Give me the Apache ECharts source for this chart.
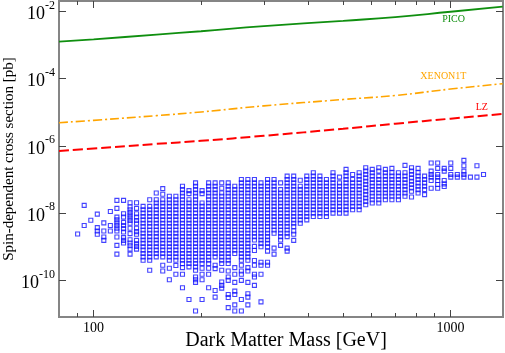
<!DOCTYPE html>
<html>
<head>
<meta charset="utf-8">
<script src="https://cdn.jsdelivr.net/npm/echarts@6/dist/echarts.min.js"></script>
<style>
  html, body { margin: 0; padding: 0; background: #fff; }
  #main { width: 505px; height: 353px; }
</style>
</head>
<body>
<div id="main"></div>
<script>
// limit curves: mass [GeV] and log10(sigma / pb)
var limitMass = [80, 100, 150, 200, 300, 500, 700, 1000, 1400];
var picoExp  = [-2.90, -2.83, -2.69, -2.59, -2.44, -2.28, -2.17, -2.01, -1.86];
var xenonExp = [-5.31, -5.24, -5.10, -4.99, -4.81, -4.62, -4.50, -4.31, -4.15];
var lzExp    = [-6.15, -6.08, -5.94, -5.85, -5.70, -5.49, -5.34, -5.19, -5.05];

// scan points: one mass per column, list of log10(sigma / pb) in that column
var scanMass = [90.2, 94.1, 98.2, 102.4, 106.8, 111.4, 116.2, 121.3, 126.5, 131.9,
  137.6, 143.6, 149.8, 156.2, 163.0, 170.0, 177.4, 185.0, 193.0, 201.3,
  210.0, 219.0, 228.5, 238.3, 248.6, 259.4, 270.5, 282.2, 294.4, 307.1,
  320.3, 334.1, 348.5, 363.6, 379.3, 395.6, 412.6, 430.5, 449.0, 468.5,
  488.6, 509.6, 531.7, 554.6, 578.6, 603.5, 629.5, 656.8, 685.0, 714.5,
  745.4, 777.4, 811.1, 845.9, 882.5, 920.4, 960.1, 1001.6, 1044.7, 1090.0,
  1136.9, 1185.8, 1237.2];
var scanExp = [
  [-8.62],
  [-7.77, -8.37],
  [-8.21],
  [-8.03, -8.43, -8.53, -8.63],
  [-8.29, -8.53, -8.71, -8.81],
  [-7.95, -8.37, -8.53],
  [-7.62, -7.86, -8.12, -8.2, -8.29, -8.37, -8.45, -8.53, -8.71, -8.96, -9.22],
  [-7.62, -8.02, -8.12, -8.28, -8.37, -8.46, -8.56, -8.73, -8.81, -8.89],
  [-7.69, -7.82, -7.9, -7.98, -8.06, -8.14, -8.22, -8.3, -8.45, -8.61, -8.79, -8.89, -8.97, -9.07, -9.22],
  [-7.69, -7.86, -8.02, -8.12, -8.22, -8.3, -8.45, -8.55, -8.63, -8.81, -8.91, -8.99, -9.07],
  [-7.8, -7.9, -8, -8.1, -8.2, -8.3, -8.4, -8.5, -8.6, -8.7, -8.8, -8.9, -9, -9.1, -9.2, -9.3, -9.4],
  [-7.6, -7.8, -7.9, -8, -8.1, -8.2, -8.3, -8.4, -8.5, -8.6, -8.7, -8.8, -8.9, -9, -9.1, -9.2, -9.3, -9.4, -9.7],
  [-7.4, -7.6, -7.7, -7.8, -7.9, -8, -8.1, -8.2, -8.3, -8.4, -8.5, -8.6, -8.7, -8.8, -8.9, -9, -9.1, -9.2, -9.3],
  [-7.27, -7.44, -7.6, -7.7, -7.8, -7.9, -8, -8.1, -8.2, -8.3, -8.4, -8.5, -8.6, -8.7, -8.8, -8.9, -9, -9.1, -9.2, -9.3, -9.55, -9.72],
  [-7.5, -7.6, -7.7, -7.8, -7.9, -8, -8.1, -8.2, -8.3, -8.4, -8.5, -8.6, -8.7, -8.8, -8.9, -9, -9.1, -9.2, -9.3, -9.4, -9.64, -9.98],
  [-7.5, -7.6, -7.7, -7.8, -7.9, -8, -8.1, -8.2, -8.3, -8.4, -8.5, -8.6, -8.7, -8.8, -8.9, -9, -9.1, -9.2, -9.3, -9.4, -9.56, -9.82],
  [-7.2, -7.3, -7.4, -7.5, -7.6, -7.7, -7.8, -7.9, -8, -8.1, -8.2, -8.3, -8.4, -8.5, -8.6, -8.7, -8.8, -8.9, -9, -9.1, -9.2, -9.3, -9.4, -9.5, -9.62, -9.82, -10.22],
  [-7.33, -7.42, -7.6, -7.7, -7.8, -7.9, -8, -8.1, -8.2, -8.3, -8.4, -8.5, -8.6, -8.7, -8.8, -8.9, -9, -9.1, -9.2, -9.3, -9.4, -9.5, -9.6, -10.57],
  [-7.1, -7.2, -7.3, -7.4, -7.5, -7.6, -7.7, -7.8, -7.9, -8, -8.1, -8.2, -8.3, -8.4, -8.5, -8.6, -8.7, -8.8, -8.9, -9, -9.1, -9.2, -9.3, -9.4, -9.5, -9.6, -9.7, -9.9, -9.98, -10.06, -10.91],
  [-7.33, -7.42, -7.7, -7.8, -7.9, -8, -8.1, -8.2, -8.3, -8.4, -8.5, -8.6, -8.7, -8.8, -8.9, -9, -9.1, -9.2, -9.3, -9.4, -9.5, -9.64, -9.82, -9.98, -10.57],
  [-7.1, -7.2, -7.3, -7.4, -7.5, -7.6, -7.7, -7.8, -7.9, -8, -8.1, -8.2, -8.3, -8.4, -8.5, -8.6, -8.7, -8.8, -8.9, -9, -9.1, -9.2, -9.3, -9.4, -9.5, -9.64, -9.82, -10.22],
  [-7.1, -7.2, -7.3, -7.4, -7.5, -7.6, -7.7, -7.8, -7.9, -8, -8.1, -8.2, -8.3, -8.4, -8.5, -8.6, -8.7, -8.8, -8.9, -9, -9.1, -9.2, -9.3, -9.55, -9.65, -10.3, -10.5],
  [-7.1, -7.26, -7.4, -7.5, -7.6, -7.7, -7.8, -7.9, -8, -8.1, -8.2, -8.3, -8.4, -8.5, -8.6, -8.7, -8.8, -8.9, -9, -9.1, -9.2, -9.3, -9.4, -9.5, -9.7, -10.05, -10.15, -10.23],
  [-7.1, -7.2, -7.3, -7.4, -7.5, -7.6, -7.7, -7.8, -7.9, -8, -8.1, -8.2, -8.3, -8.4, -8.5, -8.6, -8.7, -8.8, -8.9, -9, -9.1, -9.2, -9.3, -9.4, -9.5, -9.72, -9.9, -10, -10.42, -10.51, -10.81],
  [-7.2, -7.3, -7.4, -7.5, -7.6, -7.7, -7.8, -7.9, -8, -8.1, -8.2, -8.3, -8.4, -8.5, -8.6, -8.7, -8.8, -8.9, -9, -9.1, -9.2, -9.62, -9.82, -10.06, -10.32, -10.42, -10.73, -10.91],
  [-7, -7.1, -7.2, -7.3, -7.4, -7.5, -7.6, -7.7, -7.8, -7.9, -8, -8.1, -8.2, -8.3, -8.4, -8.5, -8.6, -8.7, -8.8, -8.9, -9, -9.1, -9.2, -9.3, -9.4, -9.55, -9.72, -9.82, -10, -10.57, -10.91],
  [-7, -7.1, -7.2, -7.3, -7.4, -7.5, -7.6, -7.7, -7.8, -7.9, -8, -8.1, -8.2, -8.3, -8.4, -8.5, -8.6, -8.7, -8.8, -8.9, -9, -9.1, -9.2, -9.3, -9.4, -9.62, -9.72, -10.06, -10.4, -10.5, -10.73],
  [-7, -7.1, -7.2, -7.3, -7.4, -7.5, -7.6, -7.7, -7.8, -7.9, -8, -8.1, -8.2, -8.3, -8.4, -8.5, -8.6, -8.7, -8.8, -8.99, -9.11, -9.41, -9.55, -9.82, -9.9, -10.15],
  [-7.1, -7.2, -7.3, -7.4, -7.5, -7.6, -7.7, -7.8, -7.9, -8, -8.1, -8.2, -8.3, -8.4, -8.5, -8.6, -8.7, -8.8, -8.9, -9, -9.46, -9.55, -9.82, -10.64],
  [-7, -7.1, -7.2, -7.3, -7.4, -7.5, -7.6, -7.7, -7.8, -7.9, -8, -8.1, -8.2, -8.3, -8.4, -8.5, -8.6, -8.7, -8.8, -8.9, -9, -9.13, -9.46, -9.55],
  [-7, -7.1, -7.2, -7.3, -7.4, -7.5, -7.6, -7.7, -7.8, -7.9, -8, -8.1, -8.2, -8.3, -8.4, -8.5, -8.6, -9.04, -9.22],
  [-7.1, -7.3, -7.4, -7.5, -7.6, -7.7, -7.8, -7.9, -8, -8.1, -8.2, -8.3, -8.4, -8.5, -8.6, -8.7, -8.8, -8.96],
  [-6.9, -7, -7.1, -7.2, -7.3, -7.4, -7.5, -7.6, -7.7, -7.8, -7.9, -8, -8.1, -8.2, -8.3, -8.4, -8.5, -8.6, -8.7, -9.04, -9.13],
  [-6.9, -7, -7.1, -7.2, -7.3, -7.4, -7.5, -7.6, -7.7, -7.8, -7.9, -8, -8.1, -8.2, -8.3, -8.4, -8.53, -8.63, -8.81],
  [-7.02, -7.2, -7.3, -7.4, -7.5, -7.6, -7.7, -7.8, -7.9, -8, -8.1, -8.2, -8.3],
  [-6.9, -7, -7.1, -7.2, -7.3, -7.4, -7.5, -7.6, -7.7, -7.8, -7.9, -8, -8.1, -8.2],
  [-6.8, -6.9, -7, -7.1, -7.2, -7.3, -7.4, -7.5, -7.6, -7.7, -7.8, -7.9, -8, -8.1],
  [-6.9, -7, -7.1, -7.2, -7.3, -7.4, -7.5, -7.6, -7.7, -7.8, -7.9, -8, -8.1],
  [-7, -7.1, -7.2, -7.3, -7.4, -7.5, -7.6, -7.7, -7.8, -7.9, -8, -8.1],
  [-6.8, -6.9, -7, -7.1, -7.2, -7.3, -7.4, -7.5, -7.6, -7.7, -7.8, -7.9, -8],
  [-6.93, -7.1, -7.2, -7.3, -7.4, -7.5, -7.6, -7.7, -7.8, -7.9, -8],
  [-6.7, -6.8, -6.9, -7, -7.1, -7.2, -7.3, -7.4, -7.5, -7.6, -7.7, -7.8, -7.9, -8],
  [-6.85, -7, -7.1, -7.2, -7.3, -7.4, -7.5, -7.6, -7.7, -7.8, -7.9],
  [-6.8, -6.9, -7, -7.1, -7.2, -7.3, -7.4, -7.5, -7.6, -7.7, -7.8, -7.9],
  [-6.65, -6.75, -6.85, -6.95, -7.05, -7.15, -7.25, -7.35, -7.45, -7.55, -7.65, -7.75],
  [-6.7, -6.8, -6.9, -7, -7.1, -7.2, -7.3, -7.4, -7.5, -7.6, -7.7],
  [-6.65, -6.75, -6.9, -7, -7.1, -7.2, -7.3, -7.4, -7.5, -7.6, -7.7],
  [-6.7, -6.8, -6.9, -7, -7.1, -7.2, -7.3, -7.4, -7.5, -7.6],
  [-6.67, -6.8, -6.9, -7, -7.1, -7.2, -7.3, -7.4, -7.5, -7.6],
  [-6.8, -6.9, -7, -7.1, -7.2, -7.3, -7.4, -7.5, -7.6],
  [-6.58, -6.8, -6.9, -7, -7.1, -7.2, -7.3, -7.4, -7.5],
  [-6.65, -6.75, -6.85, -6.95, -7.05, -7.15, -7.25, -7.35, -7.52],
  [-6.67, -6.8, -6.9, -7, -7.1, -7.2, -7.3, -7.4],
  [-6.9, -7, -7.1, -7.2, -7.3, -7.45],
  [-6.51, -6.75, -6.85, -6.93, -7.03, -7.26],
  [-6.51, -6.67, -6.85, -6.93, -7.03, -7.15, -7.26],
  [-6.67, -6.75, -7.03, -7.13, -7.21],
  [-6.51, -6.67, -6.85, -6.93],
  [-6.85, -6.93],
  [-6.43, -6.59, -6.75, -6.85, -6.93],
  [-6.93],
  [-6.59, -6.93],
  [-6.85]
];

// ticks
var xMajorTicks = [100, 1000];
var xMinorTicks = [90, 200, 300, 400, 500, 600, 700, 800, 900];
var yMajorExp = [-10, -8, -6, -4, -2];

var X_MIN = 1.903, X_MAX = 3.147;   // log10 of 80 .. 1400 GeV
var Y_MIN = -11.09, Y_MAX = -1.69;

var SERIF = "'Liberation Serif', 'DejaVu Serif', serif";

var scanPoints = [];
scanMass.forEach(function (m, i) {
  scanExp[i].forEach(function (e) {
    scanPoints.push([Math.log10(m), e]);
  });
});

function curve(exps) {
  return limitMass.map(function (m, i) { return [Math.log10(m), exps[i]]; });
}

function xAxisDef(pos, ticks, len, withLabel) {
  var ax = {
    type: 'value', position: pos, min: X_MIN, max: X_MAX,
    axisLine: { show: false },
    splitLine: { show: false },
    axisTick: {
      inside: true, length: len,
      customValues: ticks.map(Math.log10),
      lineStyle: { color: '#444', width: 1 }
    },
    axisLabel: { show: false }
  };
  if (withLabel) {
    ax.axisLabel = {
      show: true, margin: 4,
      customValues: ticks.map(Math.log10),
      formatter: function (v) { return String(Math.round(Math.pow(10, v))); },
      color: '#000', fontSize: 14, fontFamily: SERIF
    };
    ax.name = 'Dark Matter Mass [GeV]';
    ax.nameLocation = 'middle';
    ax.nameGap = 14;
    ax.nameMoveOverlap = false;
    ax.nameTextStyle = { color: '#000', fontSize: 20, fontFamily: SERIF, padding: [0, 0, 0, 10] };
  }
  return ax;
}

function yAxisDef(pos, withLabel) {
  var ax = {
    type: 'value', position: pos, min: Y_MIN, max: Y_MAX,
    axisLine: { show: false },
    splitLine: { show: false },
    axisTick: {
      inside: true, length: 7,
      customValues: yMajorExp,
      lineStyle: { color: '#444', width: 1 }
    },
    axisLabel: { show: false }
  };
  if (withLabel) {
    ax.axisLabel = {
      show: true, margin: 4,
      customValues: yMajorExp,
      formatter: function (v) { return '{b|10}{s|' + v + '}'; },
      rich: {
        b: { fontSize: 18, fontFamily: SERIF, color: '#000', lineHeight: 24, verticalAlign: 'bottom' },
        s: { fontSize: 12, fontFamily: SERIF, color: '#000', verticalAlign: 'top' }
      }
    };
    ax.name = 'Spin-dependent cross section [pb]';
    ax.nameLocation = 'middle';
    ax.nameGap = 42;
    ax.nameMoveOverlap = false;
    ax.nameTextStyle = { color: '#000', fontSize: 15, fontFamily: SERIF };
  }
  return ax;
}

function tag(text, x, y, color) {
  return {
    symbol: 'rect', symbolSize: 1,
    itemStyle: { color: 'rgba(0,0,0,0)' },
    label: { show: true, position: 'inside', formatter: text, color: color, fontSize: 10, fontFamily: SERIF },
    data: [{ coord: [Math.log10(x), y] }]
  };
}

var chart = echarts.init(document.getElementById('main'), null, { renderer: 'canvas' });
chart.setOption({
  animation: false,
  backgroundColor: '#fff',
  grid: {
    left: 59, right: 2, top: 1, bottom: 36,
    show: true, borderColor: '#858585', borderWidth: 2,
    outerBoundsMode: 'none'
  },
  xAxis: [
    xAxisDef('bottom', xMajorTicks, 7, true),
    xAxisDef('bottom', xMinorTicks, 4, false),
    xAxisDef('top', xMajorTicks, 7, false),
    xAxisDef('top', xMinorTicks, 4, false)
  ],
  yAxis: [
    yAxisDef('left', true),
    yAxisDef('right', false)
  ],
  series: [
    {
      name: 'scan', type: 'scatter', data: scanPoints,
      symbol: 'rect', symbolSize: 4,
      itemStyle: { color: 'rgba(0,0,0,0)', borderColor: '#1414ff', borderWidth: 1.1 }
    },
    {
      name: 'PICO', type: 'line', data: curve(picoExp), smooth: true, showSymbol: false,
      lineStyle: { color: '#0f8f0f', width: 1.8 },
      markPoint: tag('PICO', 1020, -2.24, '#0f8f0f')
    },
    {
      name: 'XENON1T', type: 'line', data: curve(xenonExp), smooth: true, showSymbol: false,
      lineStyle: { color: '#ffa500', width: 1.6, type: [9, 3, 2, 3] },
      markPoint: tag('XENON1T', 955, -3.94, '#ffa500')
    },
    {
      name: 'LZ', type: 'line', data: curve(lzExp), smooth: true, showSymbol: false,
      lineStyle: { color: '#ff0000', width: 2, type: [10, 4] },
      markPoint: tag('LZ', 1223, -4.85, '#ff0000')
    }
  ]
});
</script>
</body>
</html>
